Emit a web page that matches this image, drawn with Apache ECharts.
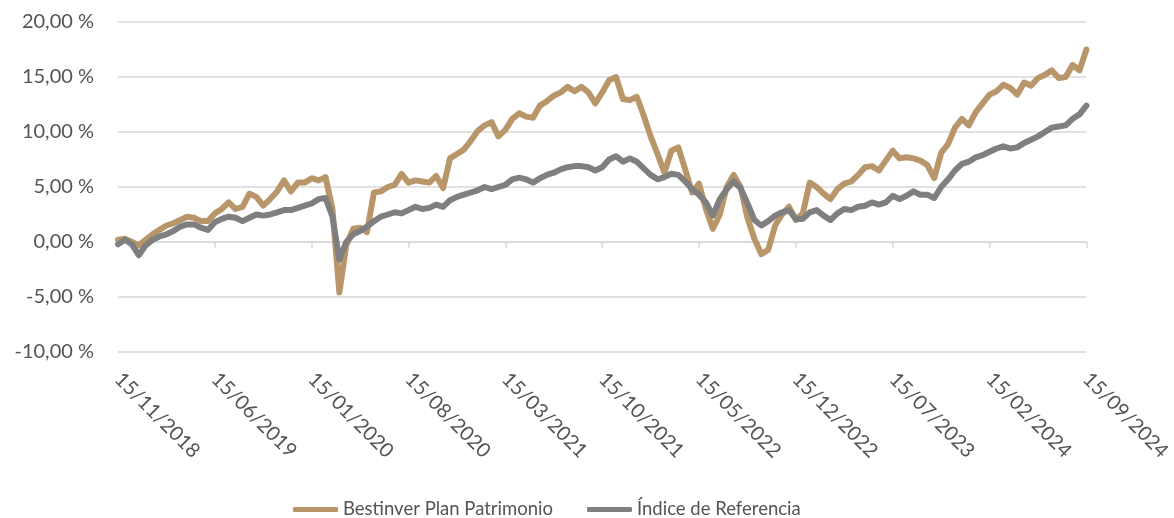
<!DOCTYPE html>
<html>
<head>
<meta charset="utf-8">
<script src="https://cdn.jsdelivr.net/npm/echarts@6/dist/echarts.min.js"></script>
<style>
  html, body { margin: 0; padding: 0; background: #fff; }
  #chart { width: 1174px; height: 518px; }
</style>
</head>
<body>
<div id="chart"></div>
<script>
// half-month dates, 15/11/2018 .. 15/09/2024
const tickLabels = ['15/11/2018', '15/06/2019', '15/01/2020', '15/08/2020', '15/03/2021', '15/10/2021',
  '15/05/2022', '15/12/2022', '15/07/2023', '15/02/2024', '15/09/2024']

const pad = n => (n < 10 ? '0' + n : '' + n)
const categories = []
for (let k = 0; k <= 140; k++) {
  const m = 10 + Math.ceil(k / 2) // month index from Jan 2018
  const y = 2018 + Math.floor(m / 12)
  categories.push((k % 2 === 0 ? '15' : '01') + '/' + pad(m % 12 + 1) + '/' + y)
}

const planData = [
  0.2, 0.3, 0.0, -0.3, 0.2, 0.7, 1.1, 1.5, 1.7, 2.0,
  2.3, 2.2, 1.9, 1.9, 2.6, 3.0, 3.6, 3.0, 3.2, 4.4,
  4.1, 3.3, 3.9, 4.6, 5.6, 4.6, 5.4, 5.4, 5.8, 5.6,
  5.9, 3.0, -4.6, -0.3, 1.2, 1.3, 0.9, 4.5, 4.6, 5.0,
  5.2, 6.2, 5.4, 5.6, 5.5, 5.4, 6.0, 4.9, 7.6, 8.0,
  8.4, 9.2, 10.1, 10.6, 10.9, 9.6, 10.2, 11.2, 11.7, 11.4,
  11.3, 12.4, 12.8, 13.3, 13.6, 14.1, 13.7, 14.1, 13.6, 12.6,
  13.6, 14.7, 15.0, 13.0, 12.9, 13.2, 11.5, 9.6, 8.0, 6.3,
  8.3, 8.6, 6.6, 4.5, 5.3, 3.0, 1.2, 2.5, 5.0, 6.1,
  5.0, 2.2, 0.3, -1.1, -0.7, 1.5, 2.5, 3.2, 2.0, 2.6,
  5.4, 5.0, 4.4, 3.9, 4.8, 5.3, 5.5, 6.1, 6.8, 6.9,
  6.5, 7.4, 8.3, 7.6, 7.7, 7.6, 7.4, 7.0, 5.8, 8.1,
  8.9, 10.4, 11.2, 10.6, 11.8, 12.6, 13.4, 13.7, 14.3, 14.0,
  13.4, 14.5, 14.2, 14.9, 15.2, 15.6, 14.9, 15.0, 16.1, 15.6,
  17.5
]

const indexData = [
  -0.2, 0.2, -0.2, -1.2, -0.3, 0.2, 0.5, 0.7, 1.0, 1.4,
  1.6, 1.6, 1.3, 1.1, 1.8, 2.1, 2.3, 2.2, 1.9, 2.2,
  2.5, 2.4, 2.5, 2.7, 2.9, 2.9, 3.1, 3.3, 3.5, 3.9,
  4.0, 2.3, -1.6, 0.0, 0.7, 1.0, 1.4, 1.9, 2.3, 2.5,
  2.7, 2.6, 2.9, 3.2, 3.0, 3.1, 3.4, 3.2, 3.8, 4.1,
  4.3, 4.5, 4.7, 5.0, 4.8, 5.0, 5.2, 5.7, 5.85, 5.7,
  5.4, 5.8, 6.1, 6.3, 6.6, 6.8, 6.9, 6.9, 6.8, 6.5,
  6.8, 7.5, 7.8, 7.3, 7.6, 7.3, 6.7, 6.1, 5.7, 5.9,
  6.2, 6.1, 5.5, 4.8, 4.3, 3.6, 2.4, 3.9, 4.8, 5.5,
  4.9, 3.5, 2.0, 1.5, 1.9, 2.4, 2.7, 2.9, 2.1, 2.1,
  2.7, 2.9, 2.4, 2.0, 2.6, 3.0, 2.9, 3.2, 3.3, 3.6,
  3.4, 3.6, 4.2, 3.9, 4.2, 4.6, 4.3, 4.3, 4.0, 5.0,
  5.7, 6.5, 7.1, 7.3, 7.7, 7.9, 8.2, 8.5, 8.7, 8.5,
  8.6, 9.0, 9.3, 9.6, 10.0, 10.4, 10.5, 10.6, 11.2, 11.6,
  12.4
]

const chart = echarts.init(document.getElementById('chart'), null, { renderer: 'canvas' })
const font = 'Lato, "Open Sans", sans-serif'

chart.setOption({
  animation: false,
  textStyle: { fontFamily: font },
  grid: { left: 118, right: 79, top: 22, bottom: 166 },
  legend: {
    left: 288,
    top: 495,
    itemGap: 34,
    itemWidth: 45,
    itemHeight: 5,
    icon: 'roundRect',
    textStyle: { fontSize: 18.5, color: '#545454', fontFamily: font },
    data: ['Bestinver Plan Patrimonio', 'Índice de Referencia']
  },
  xAxis: [
    {
      type: 'category',
      data: categories,
      boundaryGap: false,
      position: 'bottom',
      axisLine: { onZero: true, lineStyle: { color: '#D9D9D9', width: 1.5 } },
      axisTick: { show: true, interval: 13, length: 6, lineStyle: { color: '#D9D9D9', width: 1.5 } },
      axisLabel: { show: false },
      splitLine: { show: false }
    },
    {
      type: 'category',
      data: categories,
      boundaryGap: false,
      position: 'bottom',
      axisLine: { show: false, onZero: false },
      axisTick: { show: false },
      axisLabel: {
        interval: 13,
        rotate: -45,
        margin: 24,
        fontSize: 20,
        color: '#545454',
        fontFamily: font,
        formatter: v => (tickLabels.indexOf(v) >= 0 ? v : '')
      }
    }
  ],
  yAxis: {
    type: 'value',
    min: -10,
    max: 20,
    interval: 5,
    axisLine: { show: false },
    axisTick: { show: false },
    axisLabel: {
      margin: 24,
      fontSize: 20,
      color: '#545454',
      fontFamily: font,
      formatter: v => v.toFixed(2).replace('.', ',') + ' %'
    },
    splitLine: { lineStyle: { color: '#D9D9D9', width: 1.5 } }
  },
  series: [
    {
      name: 'Bestinver Plan Patrimonio',
      type: 'line',
      data: planData,
      showSymbol: false,
      color: '#B8966A',
      lineStyle: { color: '#B8966A', width: 6, cap: 'round', join: 'round' }
    },
    {
      name: 'Índice de Referencia',
      type: 'line',
      data: indexData,
      showSymbol: false,
      color: '#7F7F7F',
      lineStyle: { color: '#7F7F7F', width: 6, cap: 'round', join: 'round' }
    }
  ]
})
</script>
</body>
</html>
